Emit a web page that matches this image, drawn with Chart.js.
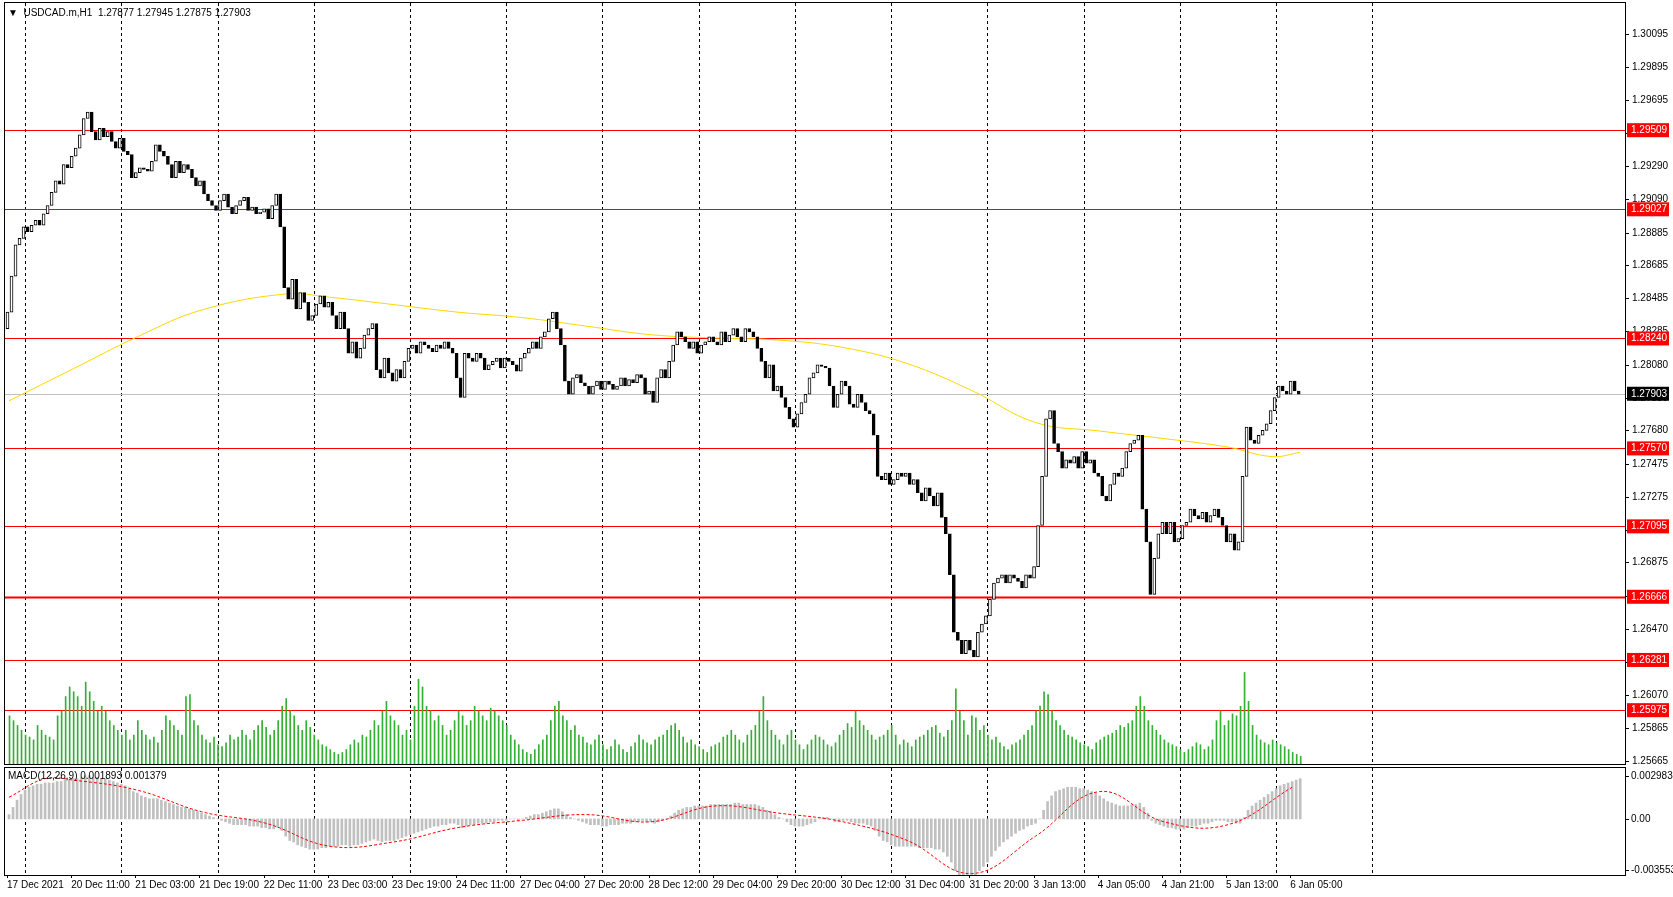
<!DOCTYPE html>
<html><head><meta charset="utf-8">
<script src="https://cdn.jsdelivr.net/npm/chart.js@4/dist/chart.umd.min.js"></script>
<style>
html,body{margin:0;padding:0;background:#fff;overflow:hidden}
canvas{position:absolute;left:0}
#c1{top:0}#c2{top:766px}
</style></head><body>
<canvas id="c1" width="1673" height="766"></canvas>
<canvas id="c2" width="1673" height="131"></canvas>
<script>
const symbolTitle = "USDCAD.m,H1  1.27877 1.27945 1.27875 1.27903";
const macdTitle = "MACD(12,26,9) 0.001893 0.001379";
const firstOpen = 1.2830;
const closes = [
1.2840,1.2862,1.2881,1.2885,1.2892,1.2889,1.2893,1.2896,1.2893,1.2900,1.2905,1.2913,1.2920,1.2918,1.2930,1.2928,
1.2935,1.2940,1.2948,1.2958,1.2962,1.2950,1.2945,1.2952,1.2947,1.2950,1.2944,1.2940,1.2946,1.2938,1.2936,1.2922,
1.2925,1.2928,1.2927,1.2926,1.2932,1.2942,1.2938,1.2935,1.2930,1.2922,1.2932,1.2925,1.2930,1.2927,1.2922,1.2917,
1.2920,1.2912,1.2908,1.2905,1.2902,1.2908,1.2912,1.2904,1.2900,1.2905,1.2908,1.2910,1.2902,1.2904,1.2900,1.2901,
1.2903,1.2897,1.2905,1.2912,1.2892,1.2855,1.2848,1.2860,1.2842,1.2852,1.2846,1.2835,1.2838,1.2845,1.2850,1.2843,
1.2846,1.2838,1.2830,1.2840,1.2830,1.2815,1.2822,1.2812,1.2818,1.2826,1.2830,1.2833,1.2805,1.2800,1.2812,1.2803,
1.2798,1.2805,1.2800,1.2810,1.2818,1.2820,1.2815,1.2822,1.2820,1.2818,1.2816,1.2820,1.2818,1.2822,1.2818,1.2815,
1.2800,1.2788,1.2815,1.2812,1.2810,1.2815,1.2812,1.2805,1.2808,1.2810,1.2812,1.2806,1.2812,1.2810,1.2808,1.2804,
1.2812,1.2815,1.2818,1.2822,1.2818,1.2825,1.2828,1.2836,1.2840,1.2830,1.2820,1.2798,1.2790,1.2800,1.2802,1.2797,
1.2795,1.2790,1.2795,1.2798,1.2793,1.2798,1.2796,1.2793,1.2795,1.2800,1.2795,1.2799,1.2797,1.2802,1.2800,1.2790,
1.2792,1.2785,1.2800,1.2805,1.2800,1.2810,1.2820,1.2828,1.2825,1.2822,1.2818,1.2822,1.2815,1.2820,1.2822,1.2825,
1.2822,1.2820,1.2828,1.2822,1.2826,1.2830,1.2825,1.2822,1.2830,1.2828,1.2825,1.2818,1.2810,1.2800,1.2808,1.2792,
1.2795,1.2788,1.2782,1.2775,1.2770,1.2778,1.2785,1.2790,1.2800,1.2803,1.2808,1.2807,1.2806,1.2795,1.2782,1.2790,
1.2798,1.2795,1.2784,1.2782,1.2790,1.2785,1.2780,1.2778,1.2765,1.2740,1.2738,1.2742,1.2735,1.2738,1.2742,1.2740,
1.2742,1.2735,1.2738,1.2730,1.2725,1.2733,1.2728,1.2722,1.2730,1.2715,1.2705,1.2680,1.2645,1.2640,1.2632,1.2640,
1.2634,1.2630,1.2645,1.2650,1.2655,1.2665,1.2675,1.2678,1.2680,1.2675,1.2680,1.2678,1.2676,1.2672,1.2680,1.2678,
1.2685,1.2710,1.2740,1.2775,1.2780,1.2760,1.2755,1.2745,1.2750,1.2748,1.2752,1.2745,1.2755,1.2748,1.2750,1.2742,
1.2740,1.2728,1.2725,1.2735,1.2742,1.2740,1.2745,1.2755,1.2760,1.2762,1.2765,1.2720,1.2700,1.2668,1.2690,1.2705,
1.2712,1.2705,1.2712,1.2700,1.2702,1.2710,1.2712,1.2720,1.2716,1.2714,1.2718,1.2712,1.2716,1.2720,1.2715,1.2710,
1.2700,1.2705,1.2695,1.2700,1.2740,1.2770,1.2762,1.2760,1.2765,1.2768,1.2772,1.2780,1.2788,1.2795,1.2792,1.2790,
1.2798,1.2792,1.2790];
const volumes = [
50,45,40,35,30,28,25,40,35,30,28,25,50,55,70,80,
75,70,60,85,75,65,55,60,55,45,40,35,30,35,25,30,
45,35,30,25,28,22,35,50,45,40,35,30,70,72,45,40,
30,25,22,28,20,18,22,30,25,28,35,30,25,35,40,45,
38,30,35,45,60,68,55,50,40,35,45,38,30,25,20,18,
15,12,10,12,15,20,25,22,30,28,35,45,40,55,65,50,
45,40,30,35,25,60,88,80,60,55,45,50,40,30,35,45,
55,50,40,45,60,55,50,45,58,55,50,45,40,30,25,20,
15,12,10,15,20,25,30,45,60,65,50,45,35,40,30,28,
22,20,25,30,20,15,18,25,20,15,12,18,22,30,25,22,
20,25,28,30,35,40,42,35,28,22,25,20,18,15,12,18,
20,22,28,30,35,30,25,22,30,35,40,55,70,45,35,30,
25,20,30,35,25,20,15,20,25,30,28,25,20,18,22,30,
35,42,38,55,45,40,35,30,25,28,30,35,40,30,20,25,
22,18,25,28,30,35,38,40,32,28,35,45,78,55,45,30,
50,48,35,40,30,25,28,22,18,15,20,22,25,30,35,40,
55,60,75,72,55,45,40,35,30,28,25,22,20,18,15,22,
25,28,30,32,35,40,38,42,45,60,70,60,45,40,35,30,
25,22,20,18,15,12,15,18,22,20,15,18,25,45,55,40,
45,52,50,60,95,65,40,30,25,22,20,25,22,20,18,15,
12,10,8];
const maIdx = [0,16,32,48,69,80,96,112,128,144,160,176,192,208,224,240,256,272,288,304,315,322];
const maVals = [1.27860,1.28055,1.28250,1.28413,1.28511,1.28491,1.28446,1.28400,1.28367,1.28315,1.28263,1.28243,1.28230,1.28185,1.28087,1.27924,1.27728,1.27676,1.27630,1.27578,1.27520,1.27546];
const macd = [
0.3,0.8,1.3,1.7,2.0,2.2,2.3,2.4,2.4,2.5,2.5,2.5,2.6,2.6,2.7,2.7,
2.8,2.8,2.9,3.0,3.0,2.9,2.9,2.8,2.8,2.7,2.6,2.5,2.4,2.3,2.1,1.9,
1.8,1.6,1.5,1.4,1.4,1.4,1.3,1.2,1.1,1.0,0.9,0.8,0.8,0.7,0.6,0.5,
0.4,0.3,0.2,0.1,0.0,-0.1,-0.2,-0.3,-0.4,-0.4,-0.4,-0.4,-0.5,-0.5,-0.5,-0.6,
-0.6,-0.7,-0.7,-0.6,-0.8,-1.2,-1.5,-1.6,-1.8,-1.9,-2.0,-2.1,-2.1,-2.1,-2.0,-2.0,
-1.9,-1.9,-1.9,-1.8,-1.8,-1.9,-1.8,-1.8,-1.7,-1.6,-1.5,-1.4,-1.5,-1.6,-1.5,-1.5,
-1.5,-1.4,-1.3,-1.2,-1.1,-1.0,-0.9,-0.8,-0.7,-0.6,-0.5,-0.5,-0.4,-0.4,-0.3,-0.3,
-0.4,-0.6,-0.5,-0.4,-0.4,-0.3,-0.3,-0.3,-0.2,-0.2,-0.1,-0.1,-0.1,0.0,0.0,-0.1,
0.0,0.1,0.2,0.3,0.3,0.4,0.5,0.6,0.7,0.7,0.5,0.3,0.1,0.0,-0.1,-0.2,
-0.3,-0.4,-0.4,-0.4,-0.5,-0.5,-0.4,-0.4,-0.4,-0.3,-0.3,-0.3,-0.2,-0.2,-0.1,-0.2,
-0.2,-0.3,-0.2,-0.1,0.0,0.2,0.4,0.6,0.7,0.8,0.8,0.9,0.9,0.9,0.9,1.0,
1.0,1.0,1.0,1.0,1.0,1.1,1.1,1.0,1.0,1.0,1.0,0.9,0.8,0.6,0.5,0.3,
0.1,0.0,-0.2,-0.4,-0.5,-0.5,-0.5,-0.4,-0.3,-0.2,0.0,0.1,0.1,0.0,-0.2,-0.2,
-0.1,-0.1,-0.2,-0.3,-0.3,-0.3,-0.4,-0.5,-0.8,-1.2,-1.5,-1.6,-1.8,-1.9,-1.9,-1.9,
-1.9,-1.9,-1.9,-2.0,-2.0,-2.0,-2.0,-2.1,-2.1,-2.3,-2.6,-3.0,-3.6,-3.9,-4.1,-4.1,
-4.0,-3.9,-3.6,-3.3,-3.0,-2.6,-2.2,-1.9,-1.6,-1.4,-1.2,-1.0,-0.8,-0.7,-0.5,-0.4,
-0.3,0.0,0.6,1.2,1.6,1.9,2.0,2.1,2.2,2.2,2.2,2.1,2.1,2.0,1.9,1.8,
1.6,1.4,1.2,1.1,1.0,0.9,0.9,0.9,1.0,1.0,1.1,0.8,0.4,-0.1,-0.3,-0.4,
-0.5,-0.6,-0.6,-0.7,-0.7,-0.7,-0.6,-0.5,-0.5,-0.4,-0.3,-0.3,-0.2,-0.1,-0.1,-0.1,
-0.2,-0.2,-0.3,-0.3,0.1,0.6,0.9,1.1,1.3,1.5,1.7,1.9,2.1,2.3,2.4,2.5,
2.6,2.7,2.8];
const sigIdx = [0,9,16,32,48,64,80,96,112,128,144,160,176,192,208,224,240,256,272,288,304,320];
const sigVals = [1.5,2.8,2.7,2.0,0.5,-0.3,-1.9,-1.6,-0.6,-0.1,0.3,-0.2,0.9,0.4,-0.2,-1.5,-3.8,-1.2,1.9,-0.2,-0.4,2.2];
const levelLines = [1.29509,1.29027,1.28240,1.27570,1.27095,1.26666,1.26281,1.25975];
const currentPrice = 1.27903;
const priceTicks = ["1.30095","1.29895","1.29695","1.29490","1.29290","1.29090","1.28885","1.28685","1.28485","1.28285","1.28080","1.27880","1.27680","1.27475","1.27275","1.27075","1.26875","1.26670","1.26470","1.26270","1.26070","1.25865","1.25665"];
const timeLabels = ["17 Dec 2021","20 Dec 11:00","21 Dec 03:00","21 Dec 19:00","22 Dec 11:00","23 Dec 03:00","23 Dec 19:00","24 Dec 11:00","27 Dec 04:00","27 Dec 20:00","28 Dec 12:00","29 Dec 04:00","29 Dec 20:00","30 Dec 12:00","31 Dec 04:00","31 Dec 20:00","3 Jan 13:00","4 Jan 05:00","4 Jan 21:00","5 Jan 13:00","6 Jan 05:00"];
const macdTicks = [["0.002983",0.002983],["0.00",0],["-0.003553",-0.003553]];

const FONT = '10px "Liberation Sans"';
const XMIN=-1, XMAX=403;
const gridIdx=[]; for(let g=4; g<=340; g+=24) gridIdx.push(g);

function drawGrid(chart){
  const {ctx, chartArea:a, scales:{x}} = chart;
  ctx.save(); ctx.strokeStyle='#000'; ctx.lineWidth=1; ctx.setLineDash([3,3]);
  gridIdx.forEach(i=>{const px=Math.round(x.getPixelForValue(i))+0.5; ctx.beginPath(); ctx.moveTo(px,a.top); ctx.lineTo(px,a.bottom); ctx.stroke();});
  ctx.restore();
}
function frame(chart){
  const {ctx, chartArea:a}=chart; ctx.save(); ctx.strokeStyle='#000'; ctx.lineWidth=1;
  ctx.strokeRect(a.left-0.5,a.top-0.5,a.right-a.left+1,a.bottom-a.top+1); ctx.restore();
}

const opens = closes.map((c,i)=> i===0?firstOpen:closes[i-1]);
const pricePlugin = {
  id:'pp',
  beforeDatasetsDraw(chart){
    drawGrid(chart);
    const {ctx, chartArea:a, scales:{y}} = chart;
    ctx.save();
    levelLines.forEach(v=>{const py=Math.round(y.getPixelForValue(v))+0.5; ctx.strokeStyle='#ff0000'; ctx.lineWidth=(v===1.26666)?2:1; ctx.beginPath(); ctx.moveTo(a.left,py); ctx.lineTo(a.right,py); ctx.stroke();});
    const cy=Math.round(y.getPixelForValue(currentPrice))+0.5; ctx.strokeStyle='#c0c0c0'; ctx.lineWidth=1; ctx.beginPath(); ctx.moveTo(a.left,cy); ctx.lineTo(a.right,cy); ctx.stroke();
    ctx.restore();
  },
  afterDraw(chart){
    frame(chart);
    const {ctx, chartArea:a, scales:{y}} = chart;
    ctx.save(); ctx.font=FONT; ctx.textBaseline='middle'; ctx.fillStyle='#000';
    priceTicks.forEach(t=>{const py=Math.round(y.getPixelForValue(parseFloat(t)))+0.5; ctx.strokeStyle='#000'; ctx.beginPath(); ctx.moveTo(a.right,py); ctx.lineTo(a.right+4,py); ctx.stroke(); ctx.fillText(t,a.right+7,py);});
    const box=(v,bg,txt)=>{const py=y.getPixelForValue(v); ctx.fillStyle=bg; ctx.fillRect(a.right+2,py-7,42,14); ctx.fillStyle='#fff'; ctx.fillText(txt,a.right+6,py);};
    levelLines.forEach(v=>box(v,'#ff0000',v.toFixed(5)));
    box(currentPrice,'#000',currentPrice.toFixed(5));
    ctx.fillStyle='#000'; ctx.textBaseline='top';
    ctx.fillText('▼  '+symbolTitle, a.left+3, a.top+5);
    ctx.restore();
  }
};

new Chart(document.getElementById('c1'),{
  data:{datasets:[
    {type:'bar', yAxisID:'v', data:volumes.map((v,i)=>({x:i,y:v})), backgroundColor:'#33b033', barThickness:1, order:3},
    {type:'line', data:maIdx.map((ix,k)=>({x:ix,y:maVals[k]})), borderColor:'#ffd700', borderWidth:1, pointRadius:0, tension:0.4, order:2},
    {type:'bar', data:closes.map((c,i)=>({x:i,y:[opens[i],c]})), backgroundColor:closes.map((c,i)=>c>=opens[i]?'#ffffff':'#000000'), borderColor:'#000', borderWidth:1, borderSkipped:false, barThickness:3, minBarLength:1, order:1}
  ]},
  options:{responsive:false, animation:false, events:[],
    layout:{padding:{left:5,right:48,top:3,bottom:2}},
    plugins:{legend:{display:false},tooltip:{enabled:false}},
    scales:{
      x:{type:'linear',min:XMIN,max:XMAX,offset:false,display:false},
      y:{min:1.25647,max:1.30284,display:false},
      v:{min:0,max:790,display:false}
    }},
  plugins:[pricePlugin]
});

const macdPlugin = {
  id:'mp',
  beforeDatasetsDraw(chart){ drawGrid(chart); },
  afterDraw(chart){
    frame(chart);
    const {ctx, chartArea:a, scales:{x,y}} = chart;
    ctx.save(); ctx.font=FONT; ctx.fillStyle='#000'; ctx.textBaseline='middle';
    macdTicks.forEach(([t,v])=>{const py=Math.round(y.getPixelForValue(v))+0.5; ctx.beginPath(); ctx.moveTo(a.right,py); ctx.lineTo(a.right+4,py); ctx.stroke(); ctx.fillText(t,a.right+6,py);});
    ctx.textBaseline='top';
    ctx.fillText(macdTitle, a.left+3, a.top+3);
    timeLabels.forEach((t,k)=>{const px=x.getPixelForValue(k*16-0.5); ctx.beginPath(); ctx.moveTo(Math.round(px)+0.5,a.bottom); ctx.lineTo(Math.round(px)+0.5,a.bottom+3); ctx.stroke(); ctx.fillText(t,px,a.bottom+5);});
    ctx.restore();
  }
};
new Chart(document.getElementById('c2'),{
  data:{datasets:[
    {type:'bar', data:macd.map((v,i)=>({x:i,y:v/1000})), backgroundColor:'#c0c0c0', barThickness:2, order:2},
    {type:'line', data:sigIdx.map((ix,k)=>({x:ix,y:sigVals[k]/1000})), borderColor:'#ff0000', borderWidth:1, borderDash:[3,2], pointRadius:0, tension:0.4, order:1}
  ]},
  options:{responsive:false, animation:false, events:[],
    layout:{padding:{left:5,right:48,top:2,bottom:22}},
    plugins:{legend:{display:false},tooltip:{enabled:false}},
    scales:{
      x:{type:'linear',min:XMIN,max:XMAX,offset:false,display:false},
      y:{min:-0.0039,max:0.00354,display:false}
    }},
  plugins:[macdPlugin]
});
</script></body></html>
